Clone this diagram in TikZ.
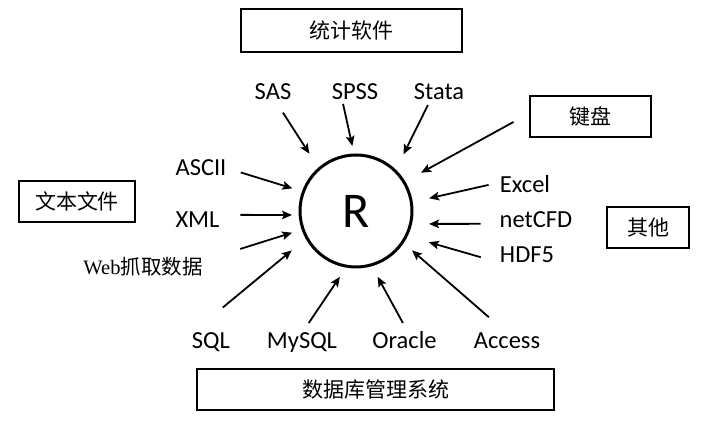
\documentclass[tikz,border=0pt]{standalone}
\usepackage{fontspec}
\setmainfont{Carlito}
\newfontfamily\cjk{Noto Sans CJK SC}
\newfontfamily\webfont{Liberation Serif}
\usetikzlibrary{arrows.meta}

\begin{document}
\begin{tikzpicture}[x=1pt, y=-1pt,
        box/.style={rectangle, draw, line width=1.3pt, minimum height=41pt, inner sep=0pt,
          text height=15.6pt, text depth=0pt, font=\cjk\fontsize{21}{21}\selectfont},
        lbl/.style={inner sep=0pt, outer sep=0pt, text height=16pt, text depth=0pt,
          font=\fontsize{24.5}{26}\selectfont},
        >={Stealth[length=10pt, width=8.5pt, inset=2pt]}, line width=1.8pt]

        \useasboundingbox (0,0) rectangle (716,435);

        \node[box, minimum width=221pt, minimum height=43pt] (stat) at (351.5,30.5) {统计软件};
        \node[box, minimum width=121pt] (keys)  at (590.5,116.5) {键盘};
        \node[box, minimum width=116pt] (text)  at (77,201.5)    {文本文件};
        \node[box, minimum width=82pt]  (other) at (648,227.5)   {其他};
        \node[box, minimum width=357pt] (dbms)  at (375.5,389.5) {数据库管理系统};

        \node[circle, draw, line width=3pt, minimum size=112pt, inner sep=0pt,
          font=\fontsize{50}{50}\selectfont] (r) at (356,211) {R};

        \node[lbl] (sas)    at (273,92)    {SAS};
        \node[lbl] (spss)   at (355,92)    {SPSS};
        \node[lbl] (stata)  at (439,92)    {Stata};
        \node[lbl] (ascii)  at (201,168)   {ASCII};
        \node[lbl] (xml)    at (197.5,219.5) {XML};
        \node[lbl, text height=15.6pt, font=\cjk\fontsize{20.5}{21}\selectfont]
                   (web)    at (143,267)   {{\webfont Web}抓取数据};
        \node[lbl] (excel)  at (525,185)   {Excel};
        \node[lbl] (netcfd) at (536,220)   {netCFD};
        \node[lbl] (hdf)    at (527,255)   {HDF5};
        \node[lbl] (sql)    at (211,341)   {SQL};
        \node[lbl] (mysql)  at (302,341)   {MySQL};
        \node[lbl] (oracle) at (404.5,341) {Oracle};
        \node[lbl] (access) at (507,341)   {Access};

        % statistics software
        \draw[->, shorten <=15pt, shorten >=16.5pt] (sas.-77) -- (r.131.5);
        \draw[->, shorten <=4pt, shorten >=7.7pt]   (spss.-148) -- (r.92.4);
        \draw[->, shorten <=5.6pt, shorten >=17pt]  (stata.-137) -- (r.46.8);

        % keyboard
        \draw[->, shorten <=18pt, shorten >=18pt]   (keys.177) -- (r.31.8);

        % text files
        \draw[->, shorten <=15pt, shorten >=10pt]   (ascii.east) -- (r.160.8);
        \draw[->, shorten <=21pt, shorten >=6.6pt]  (xml.12) -- (r.184);
        \draw[->, shorten <=39.5pt, shorten >=10pt] (web.6) -- (r.199.2);

        % databases
        \draw[->, shorten <=40pt, shorten >=18pt]   (sql.north west) -- (r.209.6);
        \draw[->, shorten <=12pt, shorten >=11pt]   (mysql.north) -- (r.260.5);
        \draw[->, shorten <=11.4pt, shorten >=12pt] (oracle.64) -- (r.286.3);
        \draw[->, shorten <=24pt, shorten >=11pt]   (access.north) -- (r.326.3);

        % others
        \draw[->, shorten <=11.6pt, shorten >=16.7pt] (excel.174) -- (r.9.4);
        \draw[->, shorten <=19pt, shorten >=17pt]     (netcfd.186) -- (r.347);
        \draw[->, shorten <=20pt, shorten >=22pt]     (hdf.196) -- (r.334.5);
      \end{tikzpicture}
\end{document}
